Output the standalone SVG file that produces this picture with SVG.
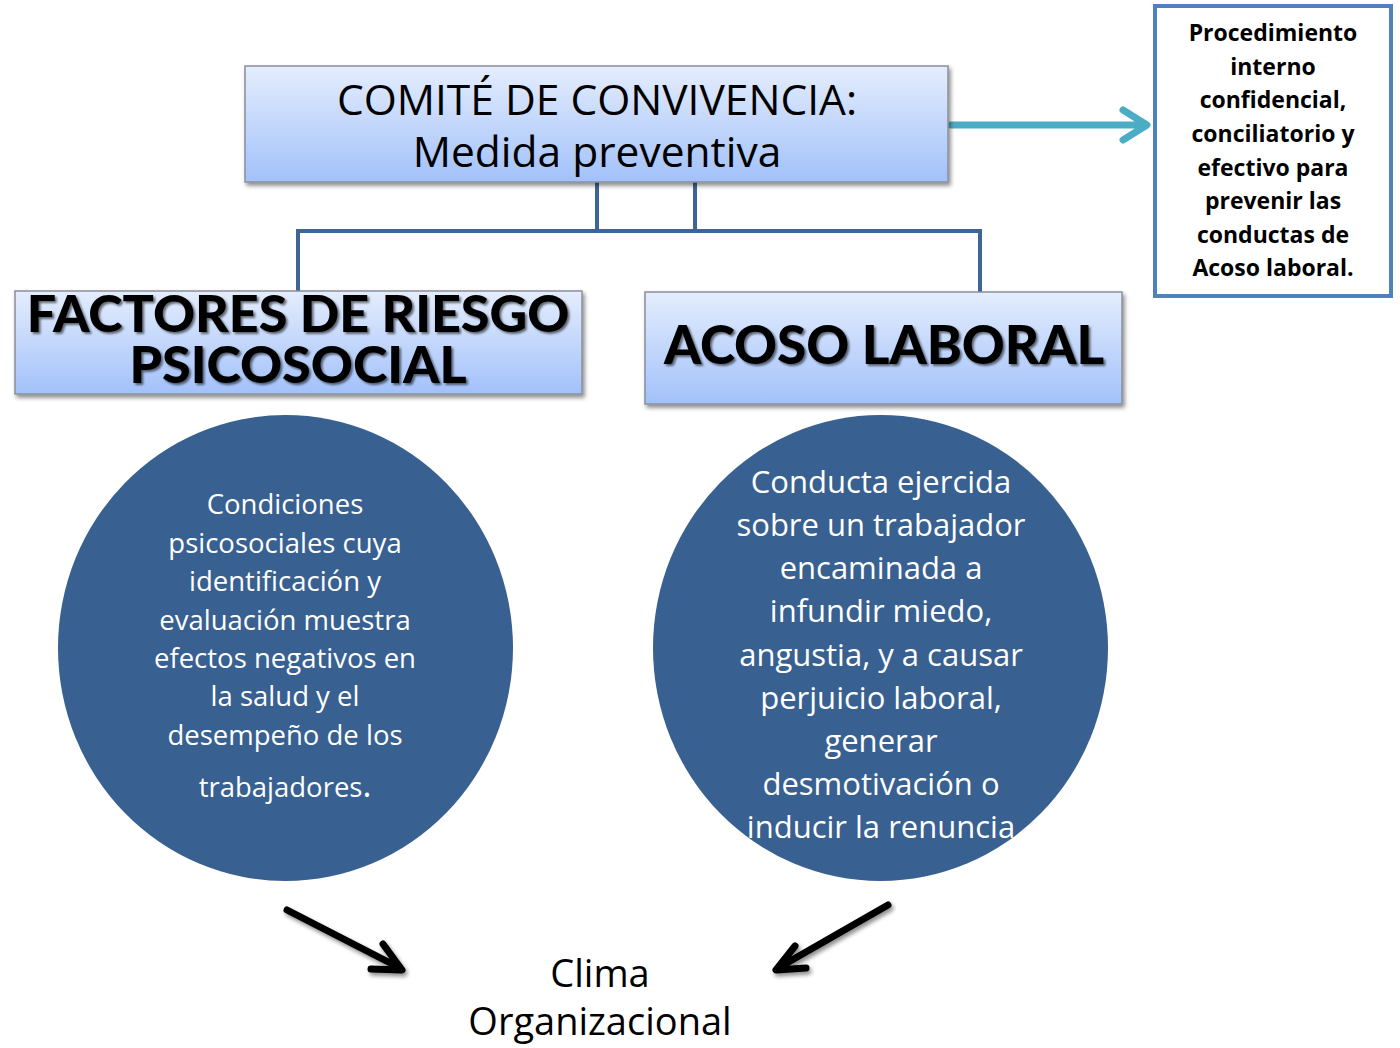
<svg xmlns="http://www.w3.org/2000/svg" width="1400" height="1048" viewBox="0 0 1400 1048">
<defs>
<linearGradient id="boxGrad" x1="0" y1="0" x2="0" y2="1">
<stop offset="0" stop-color="#e4edfd"/>
<stop offset="1" stop-color="#a2c1fa"/>
</linearGradient>
<filter id="shadow" x="-5%" y="-10%" width="112%" height="130%">
<feDropShadow dx="2" dy="3" stdDeviation="2" flood-color="#000" flood-opacity="0.45"/>
</filter>
<filter id="tshadow" x="-5%" y="-10%" width="110%" height="130%">
<feDropShadow dx="2" dy="2" stdDeviation="1.2" flood-color="#000" flood-opacity="0.55"/>
</filter>
<clipPath id="clipR"><rect x="0" y="0" width="1400" height="843"/></clipPath>
<style>
.box{fill:url(#boxGrad);stroke:#8a8f99;stroke-width:1.5;filter:url(#shadow);}
.conn{fill:none;stroke:#3d6595;stroke-width:4;}
.circ{fill:#386090;}
.ctext{font-family:"Open Sans","Noto Sans",sans-serif;fill:#fff;text-anchor:middle;}
.heavy{font-family:"Lato","Open Sans",sans-serif;font-weight:900;fill:#000;text-anchor:middle;filter:url(#tshadow);}
.reg{font-family:"Open Sans","Noto Sans",sans-serif;fill:#000;text-anchor:middle;}
.bold{font-family:"Open Sans","Noto Sans",sans-serif;font-weight:700;fill:#000;text-anchor:middle;font-size:23px;}
.blk{fill:none;stroke:#000;stroke-width:7;stroke-linecap:round;stroke-linejoin:round;filter:url(#shadow);}
.teal{fill:none;stroke:#4bacc6;stroke-width:7;stroke-linecap:round;stroke-linejoin:round;}
</style>
</defs>
<rect width="1400" height="1048" fill="#fff"/>

<g id="connectors">
<path class="conn" d="M597 182 V230 M695 182 V230 M298 291 V231 H980 V292"/>
<path class="teal" d="M951 125 H1146 M1123 110 L1147 125 L1123 140"/>
<path class="blk" d="M287 910 L400 968 M383 944 L402 970 L371 969"/>
<path class="blk" d="M888 905 L778 968 M795 946 L776 970 L806 968"/>
</g>

<g id="node-comite">
<rect class="box" x="245" y="66" width="703" height="116"/>
<text class="reg" x="597" y="115" font-size="42.5">COMITÉ DE CONVIVENCIA:</text>
<text class="reg" x="597" y="167" font-size="42.5">Medida preventiva</text>
</g>

<g id="node-procedimiento">
<rect x="1155" y="6" width="236" height="290" fill="#fff" stroke="#4f81bd" stroke-width="4"/>
<text class="bold" x="1273" y="41">Procedimiento</text>
<text class="bold" x="1273" y="75">interno</text>
<text class="bold" x="1273" y="108">confidencial,</text>
<text class="bold" x="1273" y="142">conciliatorio y</text>
<text class="bold" x="1273" y="176">efectivo para</text>
<text class="bold" x="1273" y="209">prevenir las</text>
<text class="bold" x="1273" y="243">conductas de</text>
<text class="bold" x="1273" y="276">Acoso laboral.</text>
</g>

<g id="node-factores">
<rect class="box" x="15" y="291" width="567" height="103"/>
<text class="heavy" x="298" y="332" font-size="52">FACTORES DE RIESGO</text>
<text class="heavy" x="298" y="383" font-size="52">PSICOSOCIAL</text>
</g>

<g id="node-acoso">
<rect class="box" x="645" y="292" width="477" height="112"/>
<text class="heavy" x="884" y="364" font-size="53">ACOSO LABORAL</text>
</g>

<g id="node-circulo-factores">
<ellipse class="circ" cx="285.5" cy="648" rx="227.5" ry="233"/>
<g class="ctext" font-size="27.5">
<text x="285" y="514">Condiciones</text>
<text x="285" y="553">psicosociales cuya</text>
<text x="285" y="591">identificación y</text>
<text x="285" y="630">evaluación muestra</text>
<text x="285" y="668">efectos negativos en</text>
<text x="285" y="706">la salud y el</text>
<text x="285" y="745">desempeño  de los</text>
<text x="285" y="797">trabajadores<tspan font-size="34">.</tspan></text>
</g>
</g>

<g id="node-circulo-acoso">
<ellipse class="circ" cx="880.5" cy="648" rx="227.5" ry="233"/>
<g class="ctext" font-size="31" clip-path="url(#clipR)">
<text x="881" y="493">Conducta ejercida</text>
<text x="881" y="536">sobre un trabajador</text>
<text x="881" y="579">encaminada a</text>
<text x="881" y="622">infundir miedo,</text>
<text x="881" y="666">angustia, y a causar</text>
<text x="881" y="709">perjuicio laboral,</text>
<text x="881" y="752">generar</text>
<text x="881" y="795">desmotivación o</text>
<text x="881" y="838">inducir la renuncia</text>
</g>
</g>

<g id="node-clima">
<text class="reg" x="600" y="987" font-size="38">Clima</text>
<text class="reg" x="600" y="1035" font-size="38">Organizacional</text>
</g>
</svg>
